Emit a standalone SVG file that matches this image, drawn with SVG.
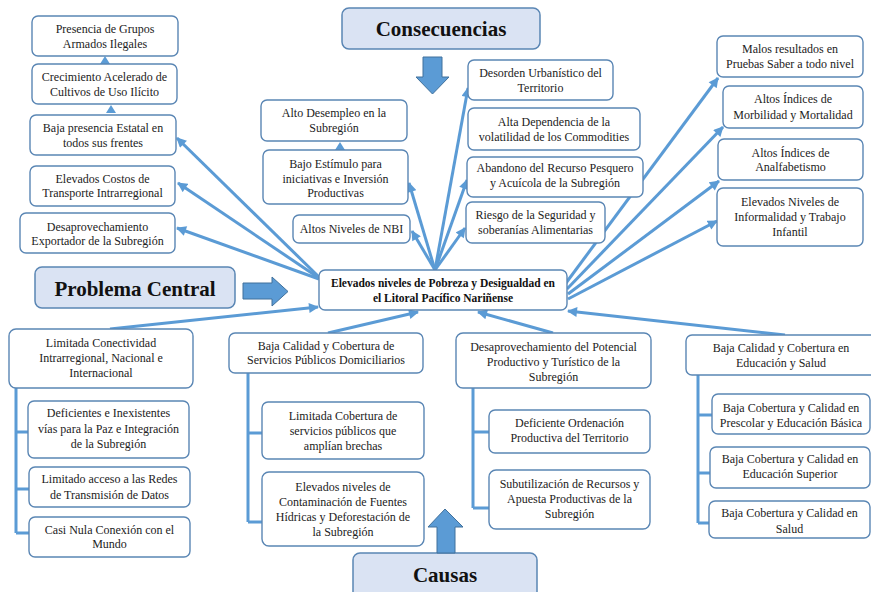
<svg xmlns="http://www.w3.org/2000/svg" width="871" height="592" viewBox="0 0 871 592">
<defs>
<marker id="ah" viewBox="0 0 10 10" refX="9" refY="5" markerUnits="userSpaceOnUse" markerWidth="11" markerHeight="10" orient="auto">
<path d="M0,0 L10,5 L0,10 z" fill="#5B9BD5"/>
</marker>
<clipPath id="saludclip"><rect x="709" y="501" width="161" height="36"/></clipPath>
<style>
.bx{fill:#fff;stroke:#5A86B4;stroke-width:1.4}
.hd{fill:#DAE3F3;stroke:#5A86B4;stroke-width:1.5}
.t{font-family:"Liberation Serif","DejaVu Serif",serif;font-size:12px;fill:#222;text-anchor:middle}
.tb{font-family:"Liberation Serif","DejaVu Serif",serif;font-size:11.5px;font-weight:bold;fill:#111;text-anchor:middle}
.th{font-family:"Liberation Serif","DejaVu Serif",serif;font-size:21px;font-weight:bold;fill:#111;text-anchor:middle}
.c{stroke:#5B9BD5;stroke-width:3;fill:none;marker-end:url(#ah)}
.br{stroke:#5B9BD5;stroke-width:3;fill:none}
.ba{fill:#5B9BD5;stroke:#41719C;stroke-width:1}
.sa{fill:#5B9BD5}
</style>
</defs>
<rect width="871" height="592" fill="#fff"/>

<g id="connectors">
<path class="c" d="M319,277 L177,138"/>
<path class="c" d="M319,278 L178,183"/>
<path class="c" d="M319,279 L177,228"/>
<path class="c" d="M435,270 L409,183"/>
<path class="c" d="M435,270 L412,231"/>
<path class="c" d="M435,270 L468,88"/>
<path class="c" d="M435,270 L467,180"/>
<path class="c" d="M435,270 L465,228"/>
<path class="c" d="M566,283 L718,78"/>
<path class="c" d="M567,289 L723,127"/>
<path class="c" d="M568,294 L719,181"/>
<path class="c" d="M568,299 L717,221"/>
<path class="c" d="M110,329 L318,307"/>
<path class="c" d="M328,333 L418,312"/>
<path class="c" d="M553,333 L478,312"/>
<path class="c" d="M785,335 L568,311"/>
<polygon class="sa" points="105,56 100,64 110,64"/>
<polygon class="sa" points="111,105 106,113 116,113"/>
<polygon class="sa" points="340,142 335,150 345,150"/>
<path class="br" d="M16,388 V533 M16,432 H29 M16,489 H29 M16,533 H29"/>
<path class="br" d="M248,373 V522 M248,433 H262 M248,522 H262"/>
<path class="br" d="M473,388 V508 M473,432 H489 M473,508 H489"/>
<path class="br" d="M698,375 V523 M698,415 H712 M698,473 H710 M698,523 H709"/>
</g>

<g id="consecuencias">
<rect class="hd" x="342" y="8" width="198" height="41" rx="7"/>
<text class="th" x="441" y="36">Consecuencias</text>
<polygon class="ba" points="423,57 442,57 442,77 449,77 432.5,94 416,77 423,77"/>
</g>
<g id="problema">
<rect class="hd" x="35" y="267" width="200" height="41" rx="7"/>
<text class="th" x="135" y="296">Problema Central</text>
<polygon class="ba" points="243,283 272,283 272,277 288,291.5 272,306 272,299 243,299"/>
</g>
<g id="causas">
<rect class="hd" x="353" y="553" width="184" height="50" rx="7"/>
<text class="th" x="445" y="582">Causas</text>
<polygon class="ba" points="437,553 437,527 428,527 445,509 463,527 455,527 455,553"/>
</g>

<g id="central">
<rect class="bx" x="319" y="270" width="248" height="40" rx="6"/>
<text class="tb" x="443" y="287">Elevados niveles de Pobreza y Desigualdad en</text>
<text class="tb" x="443" y="302">el Litoral Pacífico Nariñense</text>
</g>

<g id="n-presencia">
<rect class="bx" x="32" y="16" width="146" height="40" rx="6"/>
<text class="t" x="105" y="33">Presencia de Grupos</text>
<text class="t" x="105" y="48">Armados Ilegales</text>
</g>
<g id="n-crecimiento">
<rect class="bx" x="32" y="64" width="145" height="40" rx="6"/>
<text class="t" x="104.5" y="81">Crecimiento Acelerado de</text>
<text class="t" x="104.5" y="96">Cultivos de Uso Ilícito</text>
</g>
<g id="n-bajapresencia">
<rect class="bx" x="30" y="115" width="146" height="40" rx="6"/>
<text class="t" x="103" y="132">Baja presencia Estatal en</text>
<text class="t" x="103" y="147">todos sus frentes</text>
</g>
<g id="n-costos">
<rect class="bx" x="30" y="166" width="145" height="40" rx="6"/>
<text class="t" x="102.5" y="183">Elevados Costos de</text>
<text class="t" x="102.5" y="197">Transporte Intrarregional</text>
</g>
<g id="n-exportador">
<rect class="bx" x="20" y="213" width="155" height="40" rx="6"/>
<text class="t" x="97.5" y="231">Desaprovechamiento</text>
<text class="t" x="97.5" y="245">Exportador de la Subregión</text>
</g>
<g id="n-desempleo">
<rect class="bx" x="261" y="100" width="146" height="41" rx="6"/>
<text class="t" x="334" y="117">Alto Desempleo en la</text>
<text class="t" x="334" y="132">Subregión</text>
</g>
<g id="n-estimulo">
<rect class="bx" x="263" y="150" width="145" height="54" rx="6"/>
<text class="t" x="335.5" y="168">Bajo Estímulo para</text>
<text class="t" x="335.5" y="183">iniciativas e Inversión</text>
<text class="t" x="335.5" y="197">Productivas</text>
</g>
<g id="n-nbi">
<rect class="bx" x="293" y="215" width="117" height="28" rx="6"/>
<text class="t" x="351.5" y="233">Altos Niveles de NBI</text>
</g>
<g id="n-desorden">
<rect class="bx" x="468" y="60" width="145" height="40" rx="6"/>
<text class="t" x="540.5" y="77">Desorden Urbanístico del</text>
<text class="t" x="540.5" y="92">Territorio</text>
</g>
<g id="n-commodities">
<rect class="bx" x="468" y="108" width="172" height="42" rx="6"/>
<text class="t" x="554" y="126">Alta Dependencia de la</text>
<text class="t" x="554" y="141">volatilidad de los Commodities</text>
</g>
<g id="n-pesquero">
<rect class="bx" x="467" y="157" width="176" height="40" rx="6"/>
<text class="t" x="555" y="172">Abandono del Recurso Pesquero</text>
<text class="t" x="555" y="187">y Acuícola de la Subregión</text>
</g>
<g id="n-riesgo">
<rect class="bx" x="466" y="202" width="139" height="41" rx="6"/>
<text class="t" x="535.5" y="219">Riesgo de la Seguridad y</text>
<text class="t" x="535.5" y="234">soberanías Alimentarias</text>
</g>
<g id="n-saber">
<rect class="bx" x="717" y="36" width="146" height="41" rx="6"/>
<text class="t" x="790" y="53">Malos resultados en</text>
<text class="t" x="790" y="68">Pruebas Saber a todo nivel</text>
</g>
<g id="n-morbilidad">
<rect class="bx" x="723" y="86" width="140" height="42" rx="6"/>
<text class="t" x="793" y="103">Altos Índices de</text>
<text class="t" x="793" y="119">Morbilidad y Mortalidad</text>
</g>
<g id="n-analfabetismo">
<rect class="bx" x="718" y="139" width="145" height="41" rx="6"/>
<text class="t" x="790.5" y="157">Altos Índices de</text>
<text class="t" x="790.5" y="171">Analfabetismo</text>
</g>
<g id="n-informalidad">
<rect class="bx" x="717" y="188" width="146" height="58" rx="6"/>
<text class="t" x="790" y="206">Elevados Niveles de</text>
<text class="t" x="790" y="221">Informalidad y Trabajo</text>
<text class="t" x="790" y="236">Infantil</text>
</g>

<g id="n-conectividad">
<rect class="bx" x="9" y="329" width="184" height="59" rx="7"/>
<text class="t" x="101" y="347">Limitada Conectividad</text>
<text class="t" x="101" y="362">Intrarregional,  Nacional e</text>
<text class="t" x="101" y="377">Internacional</text>
</g>
<g id="n-vias">
<rect class="bx" x="28" y="401" width="161" height="57" rx="6"/>
<text class="t" x="108.5" y="417">Deficientes e Inexistentes</text>
<text class="t" x="108.5" y="433">vías para la Paz e Integración</text>
<text class="t" x="108.5" y="448">de la Subregión</text>
</g>
<g id="n-redes">
<rect class="bx" x="29" y="467" width="161" height="40" rx="6"/>
<text class="t" x="109.5" y="483">Limitado acceso a las Redes</text>
<text class="t" x="109.5" y="499">de Transmisión de Datos</text>
</g>
<g id="n-mundo">
<rect class="bx" x="29" y="517" width="161" height="40" rx="6"/>
<text class="t" x="109.5" y="534">Casi Nula Conexión con el</text>
<text class="t" x="109.5" y="548">Mundo</text>
</g>
<g id="n-servicios">
<rect class="bx" x="229" y="333" width="194" height="40" rx="6"/>
<text class="t" x="326" y="350">Baja Calidad y Cobertura de</text>
<text class="t" x="326" y="364">Servicios Públicos Domiciliarios</text>
</g>
<g id="n-cobertura">
<rect class="bx" x="262" y="402" width="162" height="57" rx="6"/>
<text class="t" x="343" y="420">Limitada Cobertura de</text>
<text class="t" x="343" y="435">servicios públicos que</text>
<text class="t" x="343" y="450">amplían brechas</text>
</g>
<g id="n-contaminacion">
<rect class="bx" x="262" y="472" width="162" height="74" rx="7"/>
<text class="t" x="343" y="491">Elevados niveles de</text>
<text class="t" x="343" y="506">Contaminación de Fuentes</text>
<text class="t" x="343" y="521">Hídricas y Deforestación de</text>
<text class="t" x="343" y="536">la Subregión</text>
</g>
<g id="n-potencial">
<rect class="bx" x="456" y="333" width="195" height="55" rx="7"/>
<text class="t" x="553.5" y="351">Desaprovechamiento del Potencial</text>
<text class="t" x="553.5" y="366">Productivo y Turístico de la</text>
<text class="t" x="553.5" y="381">Subregión</text>
</g>
<g id="n-ordenacion">
<rect class="bx" x="489" y="410" width="161" height="43" rx="6"/>
<text class="t" x="569.5" y="427">Deficiente Ordenación</text>
<text class="t" x="569.5" y="442">Productiva del Territorio</text>
</g>
<g id="n-subutilizacion">
<rect class="bx" x="489" y="470" width="161" height="59" rx="7"/>
<text class="t" x="569.5" y="488">Subutilización de Recursos y</text>
<text class="t" x="569.5" y="503">Apuesta Productivas de la</text>
<text class="t" x="569.5" y="518">Subregión</text>
</g>
<g id="n-educacion">
<rect class="bx" x="686" y="335" width="190" height="40" rx="6"/>
<text class="t" x="781" y="352">Baja Calidad y Cobertura en</text>
<text class="t" x="781" y="367">Educación y Salud</text>
</g>
<g id="n-prescolar">
<rect class="bx" x="712" y="394" width="158" height="40" rx="6"/>
<text class="t" x="791" y="412">Baja Cobertura y Calidad en</text>
<text class="t" x="791" y="427">Prescolar y Educación Básica</text>
</g>
<g id="n-superior">
<rect class="bx" x="710" y="447" width="160" height="41" rx="6"/>
<text class="t" x="790" y="463">Baja Cobertura y Calidad en</text>
<text class="t" x="790" y="478">Educación Superior</text>
</g>
<g id="n-salud">
<rect class="bx" x="709" y="501" width="161" height="37" rx="6"/>
<g clip-path="url(#saludclip)">
<text class="t" x="789.5" y="517">Baja Cobertura y Calidad en</text>
<text class="t" x="789.5" y="533">Salud</text>
</g>
</g>
</svg>
